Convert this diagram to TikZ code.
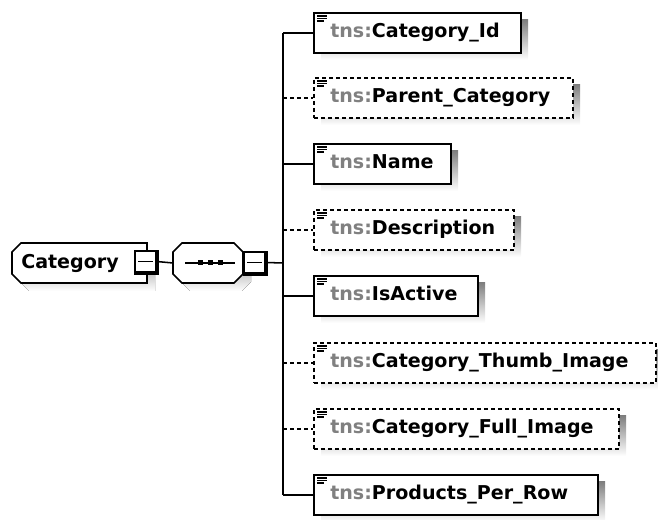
\documentclass[tikz,border=0pt]{standalone}
\usepackage{fontspec}
\newfontfamily\diafont{DejaVu Sans}
\definecolor{shade}{HTML}{BEBEBE}
\definecolor{nsgray}{HTML}{808080}
\tikzset{
  x=0.75pt, y=-0.75pt,
  frame/.style={draw=black, line width=1.15pt},
  optframe/.style={frame, dash pattern=on 3pt off 2.25pt},
  elembox/.style={frame, fill=white, rectangle, inner sep=0pt, minimum height=30pt},
  conn/.style={draw=black, line width=1.15pt},
  optconn/.style={conn, dash pattern=on 3pt off 2.25pt},
  lbl/.style={font=\diafont\bfseries\fontsize{14.3pt}{16pt}\selectfont, inner sep=0pt},
  minusbox/.style={frame, fill=white, rectangle, inner sep=0pt, minimum width=15.75pt, minimum height=15.75pt},
}
% element box: name, top y, right x, label, border style
\newcommand\elembox[5]{%
  \fill[shade] (321,#2+8) rectangle (#3+8,#2+48);
  \node[elembox, #5, minimum width={(#3-313)*0.75pt}, anchor=north west] (#1) at (313,#2) {};
  \draw[line width=0.9pt] (317,#2+4) -- (327,#2+4)
                          (317,#2+6.5) -- (327,#2+6.5)
                          (317,#2+9) -- (324,#2+9);
  \node[lbl, anchor=base west] at (330,#2+26) {\textcolor{nsgray}{tns:}#4};
}
% collapse box with a heavier lower right edge
\newcommand\minusmark[1]{%
  \draw[line width=1.6pt] ([xshift=0.6pt]#1.north east) -- ([xshift=0.6pt,yshift=-0.6pt]#1.south east)
                          -- ([yshift=-0.6pt]#1.south west);
  \draw[line width=0.9pt] ([xshift=3pt]#1.west) -- ([xshift=-3pt]#1.east);
}
\begin{document}
\begin{tikzpicture}
\useasboundingbox (0,0) rectangle (658,520);

% root element
\fill[shade] (29,251) -- (155,251) -- (155,291) -- (29,291) -- (20,282) -- (20,260) -- cycle;
\draw[frame, fill=white] (21,243) -- (147,243) -- (147,283) -- (21,283) -- (12,274) -- (12,252) -- cycle;
\node[lbl, anchor=base west] (cat) at (21,269) {Category};
\node[minusbox] (catm) at (145.5,261.5) {};
\minusmark{catm}

% sequence compositor
\fill[shade] (190,251) -- (242,251) -- (251,260) -- (251,282) -- (242,291) -- (190,291) -- (181,282) -- (181,260) -- cycle;
\draw[frame, fill=white] (182,243) -- (234,243) -- (243,252) -- (243,274) -- (234,283) -- (182,283) -- (173,274) -- (173,252) -- cycle;
\coordinate (seqw) at (173,263);
\draw[line width=1.1pt] (185,263) -- (235,263);
\foreach \dx in {200,210,220}
  \fill (\dx-2.5,260.5) rectangle (\dx+2.5,265.5);
\node[minusbox] (seqm) at (254.5,262.5) {};
\minusmark{seqm}
\draw[conn] (catm.east) -- (seqw);

% child elements
\elembox{cid}{12}{520}{Category\_Id}{}
\elembox{pcat}{77}{572}{Parent\_Category}{optframe}
\elembox{name}{143}{450}{Name}{}
\elembox{desc}{209}{513}{Description}{optframe}
\elembox{act}{275}{477}{IsActive}{}
\elembox{thumb}{342}{655}{Category\_Thumb\_Image}{optframe}
\elembox{full}{408}{618}{Category\_Full\_Image}{optframe}
\elembox{ppr}{474}{597}{Products\_Per\_Row}{}

% connectors
\coordinate (bus) at (283,263);
\draw[conn] (seqm.east) -- (bus);
\draw[conn] (bus |- cid.west) -- (bus |- ppr.west);
\foreach \n in {cid,name,act,ppr}
  \draw[conn] (bus |- \n.west) -- (\n.west);
\foreach \n in {pcat,desc,thumb,full}
  \draw[optconn] (bus |- \n.west) -- (\n.west);
\end{tikzpicture}
\end{document}
